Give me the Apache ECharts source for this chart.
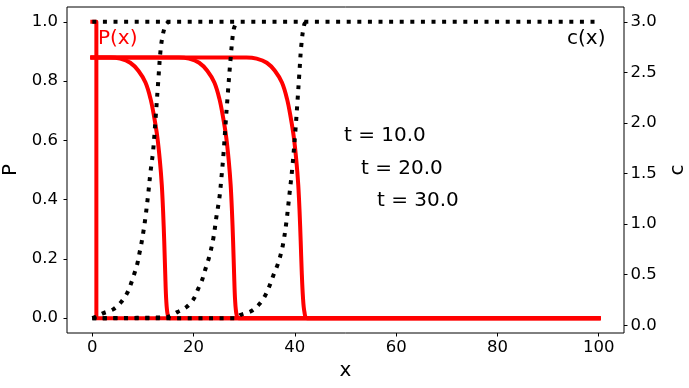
<!DOCTYPE html>
<html><head><meta charset="utf-8">
<script src="https://cdn.jsdelivr.net/npm/echarts@6/dist/echarts.min.js"></script>
<style>html,body{margin:0;padding:0;background:#fff}#c{width:689px;height:388px}</style>
</head><body><div id="c"></div>
<script>
// tick labels
const xTicks = [0, 20, 40, 60, 80, 100];
const pTicks = [0, 0.2, 0.4, 0.6, 0.8, 1.0];
const cTicks = [0, 0.5, 1.0, 1.5, 2.0, 2.5, 3.0];

// P(x) at t = 0, 10, 20, 30
const xP0 = [0, 0.8, 0.8, 100];
const P0  = [1.0, 1.0, 0.0, 0.0];
const xP10 = [0, 3.5, 5.5, 7.5, 9.1, 10.5, 11.5, 12.2, 12.85, 13.35, 13.72, 13.98, 14.2, 14.4, 14.6, 14.9, 15.3, 100];
const P10  = [0.88, 0.88, 0.876, 0.862, 0.835, 0.795, 0.74, 0.68, 0.61, 0.53, 0.45, 0.36, 0.26, 0.15, 0.06, 0.01, 0, 0];
const xP20 = [0, 17.1, 19.1, 21.1, 22.7, 24.1, 25.1, 25.8, 26.45, 26.95, 27.32, 27.58, 27.8, 28.0, 28.2, 28.5, 28.9, 100];
const P20  = [0.88, 0.88, 0.876, 0.862, 0.835, 0.795, 0.74, 0.68, 0.61, 0.53, 0.45, 0.36, 0.26, 0.15, 0.06, 0.01, 0, 0];
const xP30 = [0, 30.45, 32.45, 34.45, 36.05, 37.45, 38.45, 39.15, 39.8, 40.3, 40.67, 40.93, 41.15, 41.35, 41.6, 41.9, 42.4, 100];
const P30  = [0.88, 0.88, 0.876, 0.862, 0.835, 0.795, 0.74, 0.68, 0.61, 0.53, 0.45, 0.36, 0.26, 0.16, 0.07, 0.02, 0, 0];

// c(x) at t = 0, 10, 20, 30
const xC0 = [0, 100];
const C0  = [3.0, 3.0];
const xC10 = [0, 1, 2.2, 4.2, 5.7, 6.9, 7.7, 8.3, 8.9, 9.3, 9.7, 10.1, 10.5, 11, 11.5, 12, 12.5, 13, 13.5, 14, 14.6, 15.2];
const C10  = [0.07, 0.09, 0.12, 0.16, 0.23, 0.32, 0.42, 0.51, 0.61, 0.71, 0.81, 0.93, 1.07, 1.28, 1.52, 1.72, 2.05, 2.4, 2.73, 2.89, 2.98, 3.0];
const xC20 = [0, 14.6, 16.8, 18.6, 20.0, 20.9, 21.7, 22.3, 23.1, 23.9, 24.5, 25.1, 25.5, 25.9, 26.3, 26.7, 27.3, 27.9, 28.5];
const C20  = [0.07, 0.08, 0.13, 0.18, 0.26, 0.36, 0.45, 0.55, 0.68, 0.86, 1.07, 1.26, 1.46, 1.69, 1.98, 2.25, 2.63, 2.92, 3.0];
const xC30 = [0, 28.5, 29.2, 31.4, 33.0, 34.2, 35.0, 35.8, 36.6, 37.2, 37.7, 38.3, 38.9, 39.5, 40.1, 40.5, 40.9, 41.3, 41.9, 42.5];
const C30  = [0.07, 0.07, 0.10, 0.14, 0.21, 0.30, 0.39, 0.50, 0.60, 0.70, 0.81, 1.01, 1.28, 1.56, 1.92, 2.2, 2.5, 2.78, 2.98, 3.0];

const annotations = ['t = 10.0', 't = 20.0', 't = 30.0'];

const zip = (xs, ys) => xs.map((x, i) => [x, ys[i]]);
const FONT = 'DejaVu Sans';

function redSeries(xs, ys, smooth) {
  return { type: 'line', xAxisIndex: 0, yAxisIndex: 0, data: zip(xs, ys), symbol: 'none',
    smooth: smooth ? 0.35 : false,
    lineStyle: { color: '#ff0000', width: 4, cap: 'square', join: 'round' }, z: 3, silent: true };
}
function dotSeries(xs, ys, smooth) {
  return { type: 'line', xAxisIndex: 0, yAxisIndex: 1, data: zip(xs, ys), symbol: 'none',
    smooth: smooth ? 0.35 : false,
    lineStyle: { color: '#000', width: 4, type: [4, 6.6], cap: 'butt', join: 'miter' }, z: 4, silent: true };
}

const chart = echarts.init(document.getElementById('c'), null, { renderer: 'canvas' });
const tickStyle = { show: true, inside: false, length: 3.5, lineStyle: { color: '#000', width: 1 } };
chart.setOption({
  animation: false,
  backgroundColor: '#fff',
  grid: { left: 67, right: 65, top: 7, bottom: 55, show: true, borderColor: '#000', borderWidth: 1,
          backgroundColor: 'transparent', containLabel: false, outerBoundsMode: 'none' },
  xAxis: {
    type: 'value', min: -5, max: 105,
    axisLine: { show: false, onZero: false },
    axisTick: Object.assign({ customValues: xTicks }, tickStyle),
    axisLabel: { customValues: xTicks, fontSize: 16.5, color: '#000', fontFamily: FONT, margin: 6, formatter: v => String(v) },
    splitLine: { show: false },
    name: 'x', nameLocation: 'middle', nameGap: 27,
    nameTextStyle: { fontSize: 20, color: '#000', fontFamily: FONT }
  },
  yAxis: [{
    type: 'value', position: 'left', min: -0.05, max: 1.05,
    axisLine: { show: false, onZero: false },
    axisTick: Object.assign({ customValues: pTicks }, tickStyle),
    axisLabel: { customValues: pTicks, fontSize: 16.5, color: '#000', fontFamily: FONT, margin: 9, formatter: v => v.toFixed(1) },
    splitLine: { show: false },
    name: 'P', nameLocation: 'middle', nameGap: 37, nameRotate: 90,
    nameTextStyle: { fontSize: 20, color: '#000', fontFamily: FONT }
  }, {
    type: 'value', position: 'right', min: -0.0765, max: 3.1465,
    axisLine: { show: false, onZero: false },
    axisTick: Object.assign({ customValues: cTicks }, tickStyle),
    axisLabel: { customValues: cTicks, fontSize: 16.5, color: '#000', fontFamily: FONT, margin: 6.5, formatter: v => v.toFixed(1) },
    splitLine: { show: false },
    name: 'c', nameLocation: 'middle', nameGap: 39, nameRotate: 90,
    nameTextStyle: { fontSize: 20, color: '#000', fontFamily: FONT }
  }],
  series: [
    redSeries(xP0, P0, false), redSeries(xP10, P10, true), redSeries(xP20, P20, true), redSeries(xP30, P30, true),
    dotSeries(xC0, C0, false), dotSeries(xC10, C10, true), dotSeries(xC20, C20, true), dotSeries(xC30, C30, true)
  ],
  graphic: [
    { type: 'text', x: 98, y: 38.5, z: 10, style: { text: 'P(x)', fill: '#ff0000', font: '20px "DejaVu Sans"', textAlign: 'left', textVerticalAlign: 'middle' } },
    { type: 'text', x: 605.5, y: 38.5, z: 10, style: { text: 'c(x)', fill: '#000', font: '20px "DejaVu Sans"', textAlign: 'right', textVerticalAlign: 'middle' } },
    { type: 'text', x: 344, y: 136, z: 10, style: { text: annotations[0], fill: '#000', font: '20px "DejaVu Sans"', textAlign: 'left', textVerticalAlign: 'middle' } },
    { type: 'text', x: 361, y: 169, z: 10, style: { text: annotations[1], fill: '#000', font: '20px "DejaVu Sans"', textAlign: 'left', textVerticalAlign: 'middle' } },
    { type: 'text', x: 377, y: 201, z: 10, style: { text: annotations[2], fill: '#000', font: '20px "DejaVu Sans"', textAlign: 'left', textVerticalAlign: 'middle' } }
  ]
});
</script></body></html>
